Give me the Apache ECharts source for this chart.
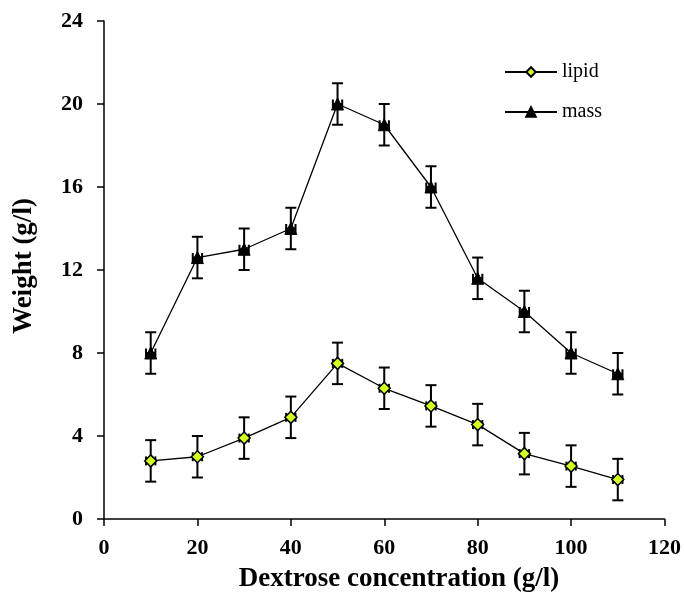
<!DOCTYPE html>
<html>
<head>
<meta charset="utf-8">
<script src="https://cdn.jsdelivr.net/npm/echarts@6/dist/echarts.min.js"></script>
<style>
  html, body { margin: 0; padding: 0; background: #fff; }
  #chart { width: 684px; height: 601px; }
</style>
</head>
<body>
<div id="chart"></div>
<script>
// dextrose concentration (g/l)
var dextrose = [10, 20, 30, 40, 50, 60, 70, 80, 90, 100, 110];
var lipid = [2.8, 3.0, 3.9, 4.9, 7.5, 6.3, 5.45, 4.55, 3.15, 2.55, 1.9];
var mass = [8, 12.6, 13, 14, 20, 19, 16, 11.6, 10, 8, 7];
var lipidErr = [1, 1, 1, 1, 1, 1, 1, 1, 1, 1, 1];
var massErr = [1, 1, 1, 1, 1, 1, 1, 1, 1, 1, 1];
var xErr = 1;

var xTitle = 'Dextrose concentration (g/l)';
var yTitle = 'Weight (g/l)';

var font = '"Liberation Serif", "Times New Roman", serif';

function pairs(ys) {
  return dextrose.map(function (x, i) { return [x, ys[i]]; });
}
function errData(ys, errs) {
  return dextrose.map(function (x, i) { return [x, ys[i], errs[i], xErr]; });
}

// error bars: vertical bar with caps + tiny horizontal bar with caps
function renderErr(params, api) {
  var x = api.value(0), y = api.value(1), e = api.value(2), xe = api.value(3);
  var top = api.coord([x, y + e]);
  var bot = api.coord([x, y - e]);
  var lft = api.coord([x - xe, y]);
  var rgt = api.coord([x + xe, y]);
  var cw = 5.5, ch = 4.5;
  var st = { stroke: '#000', lineWidth: 2 };
  var seg = function (x1, y1, x2, y2) {
    return { type: 'line', shape: { x1: x1, y1: y1, x2: x2, y2: y2 }, style: st };
  };
  return {
    type: 'group',
    children: [
      seg(top[0], top[1], bot[0], bot[1]),
      seg(top[0] - cw, top[1], top[0] + cw, top[1]),
      seg(bot[0] - cw, bot[1], bot[0] + cw, bot[1]),
      seg(lft[0], lft[1], rgt[0], rgt[1]),
      seg(lft[0], lft[1] - ch, lft[0], lft[1] + ch),
      seg(rgt[0], rgt[1] - ch, rgt[0], rgt[1] + ch)
    ]
  };
}

var chart = echarts.init(document.getElementById('chart'), null, { renderer: 'canvas' });

var option = {
  animation: false,
  backgroundColor: '#fff',
  grid: { left: 104, right: 17, top: 21, bottom: 82, containLabel: false },
  legend: {
    orient: 'vertical',
    left: 499,
    top: 57,
    padding: 5,
    itemWidth: 52,
    itemHeight: 12,
    itemGap: 20,
    data: ['lipid', 'mass'],
    textStyle: { fontFamily: font, fontSize: 20, color: '#000' }
  },
  graphic: [
    {
      type: 'text',
      x: 399, y: 579,
      style: {
        text: xTitle, fontFamily: font, fontSize: 27, fontWeight: 'bold',
        fill: '#000', align: 'center', verticalAlign: 'middle'
      }
    },
    {
      type: 'text',
      x: 24, y: 266,
      rotation: Math.PI / 2,
      style: {
        text: yTitle, fontFamily: font, fontSize: 27, fontWeight: 'bold',
        fill: '#000', align: 'center', verticalAlign: 'middle'
      }
    }
  ],
  xAxis: {
    type: 'value',
    min: 0, max: 120, interval: 20,
    axisLine: { lineStyle: { color: '#000', width: 1.5 } },
    axisTick: { inside: false, length: 7, lineStyle: { color: '#000', width: 1.5 } },
    axisLabel: { margin: 18, fontFamily: font, fontSize: 22, fontWeight: 'bold', color: '#000' },
    splitLine: { show: false }
  },
  yAxis: {
    type: 'value',
    min: 0, max: 24, interval: 4,
    axisLine: { show: true, lineStyle: { color: '#000', width: 1.5 } },
    axisTick: { show: true, inside: false, length: 7, lineStyle: { color: '#000', width: 1.5 } },
    axisLabel: { margin: 21, fontFamily: font, fontSize: 22, fontWeight: 'bold', color: '#000' },
    splitLine: { show: false }
  },
  series: [
    {
      name: 'lipid',
      type: 'line',
      data: pairs(lipid),
      symbol: 'diamond',
      symbolSize: 12,
      z: 4,
      lineStyle: { color: '#000', width: 1.3 },
      itemStyle: { color: '#d4ff1a', borderColor: '#000', borderWidth: 1.5 }
    },
    {
      name: 'mass',
      type: 'line',
      data: pairs(mass),
      symbol: 'triangle',
      symbolSize: 12,
      z: 4,
      lineStyle: { color: '#000', width: 1.3 },
      itemStyle: { color: '#000', borderColor: '#000', borderWidth: 1 }
    },
    {
      name: 'lipidErr',
      type: 'custom',
      renderItem: renderErr,
      data: errData(lipid, lipidErr),
      z: 3,
      silent: true
    },
    {
      name: 'massErr',
      type: 'custom',
      renderItem: renderErr,
      data: errData(mass, massErr),
      z: 3,
      silent: true
    }
  ]
};

chart.setOption(option);
</script>
</body>
</html>
